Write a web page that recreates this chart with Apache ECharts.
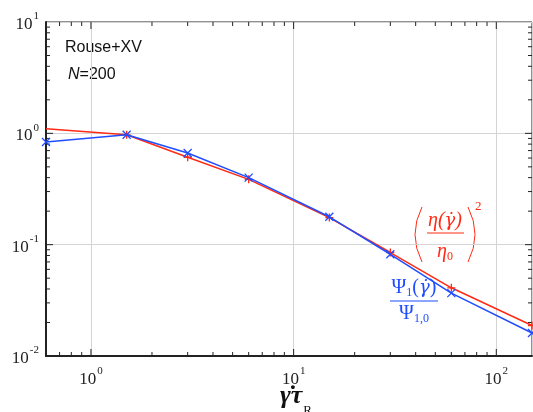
<!DOCTYPE html>
<html>
<head>
<meta charset="utf-8">
<script src="https://cdn.jsdelivr.net/npm/echarts@6/dist/echarts.min.js"></script>
<style>
html,body{margin:0;padding:0;background:#fff;}
#chart{width:533px;height:412px;}
</style>
</head>
<body>
<div id="chart"></div>
<script>
// data
const rate = [0.6, 1.5, 3, 6, 15, 30, 60, 150];
const etaSq = [1.10, 0.97, 0.61, 0.386, 0.175, 0.085, 0.041, 0.0188];
const psiRatio = [0.835, 0.97, 0.665, 0.40, 0.178, 0.082, 0.0367, 0.0161];

const xMajor = [1, 10, 100];
const xMinor = [0.7, 0.8, 0.9, 2, 3, 4, 5, 6, 7, 8, 9, 20, 30, 40, 50, 60, 70, 80, 90];
const yMajor = [0.1, 1];
const yMinor = [0.02, 0.03, 0.04, 0.05, 0.06, 0.07, 0.08, 0.09,
  0.2, 0.3, 0.4, 0.5, 0.6, 0.7, 0.8, 0.9, 2, 3, 4, 5, 6, 7, 8, 9];

const XMIN = 0.6, XMAX = 150, YMIN = 0.01, YMAX = 10;
const RED = '#ff2a14', BLUE = '#1f4dff';

const myChart = echarts.init(document.getElementById('chart'));

const powLabel = v => {
  const e = Math.log10(v);
  if (Math.abs(e - Math.round(e)) > 1e-6) return '';
  return '{b|10}{s|' + Math.round(e) + '}';
};
const labelRich = {
  b: {fontFamily: 'Liberation Serif', fontSize: 17, color: '#222', lineHeight: 22, verticalAlign: 'bottom'},
  s: {fontFamily: 'Liberation Serif', fontSize: 11, color: '#222', lineHeight: 22, verticalAlign: 'top', padding: [0, 0, 0, 1]}
};

const tickLine = (a, b) => ({
  type: 'line', shape: {x1: a[0], y1: a[1], x2: b[0], y2: b[1]},
  style: {stroke: '#222', lineWidth: 1}
});

// inward ticks on bottom+top / left+right, placed through the axis scales
const xTicks = (len) => (params, api) => {
  const v = api.value(0);
  const b = api.coord([v, YMIN]), t = api.coord([v, YMAX]);
  return {type: 'group', children: [
    tickLine(b, [b[0], b[1] - len]),
    tickLine(t, [t[0], t[1] + len])
  ]};
};
const yTicks = (len) => (params, api) => {
  const v = api.value(0);
  const l = api.coord([XMIN, v]), r = api.coord([XMAX, v]);
  return {type: 'group', children: [
    tickLine(l, [l[0] + len, l[1]]),
    tickLine(r, [r[0] - len, r[1]])
  ]};
};

const crossPath = 'path://M0,0L10,10M10,0L0,10';
const plusPath = 'path://M5,0L5,10M0,5L10,5';

const serif = '"Liberation Serif"';

const option = {
  animation: false,
  grid: {left: 46, top: 22, right: 1, bottom: 56, show: true, borderColor: '#222', borderWidth: 1},
  xAxis: {
    type: 'log', logBase: 10, min: XMIN, max: XMAX,
    axisLine: {lineStyle: {color: '#222', width: 2}},
    axisTick: {show: false},
    minorTick: {show: false},
    splitLine: {show: true, lineStyle: {color: '#d4d4d4', width: 1}},
    axisLabel: {formatter: powLabel, rich: labelRich, margin: 10, showMinLabel: false, showMaxLabel: false}
  },
  yAxis: {
    type: 'log', logBase: 10, min: YMIN, max: YMAX,
    axisLine: {lineStyle: {color: '#222', width: 2}},
    axisTick: {show: false},
    minorTick: {show: false},
    splitLine: {show: true, lineStyle: {color: '#d4d4d4', width: 1}},
    axisLabel: {formatter: powLabel, rich: labelRich, margin: 7}
  },
  series: [
    {type: 'custom', silent: true, data: xMinor, renderItem: xTicks(4), z: 5},
    {type: 'custom', silent: true, data: xMajor, renderItem: xTicks(7), z: 5},
    {type: 'custom', silent: true, data: yMinor, renderItem: yTicks(4), z: 5},
    {type: 'custom', silent: true, data: yMajor, renderItem: yTicks(7), z: 5},
    {
      type: 'line', name: 'eta', z: 10,
      data: rate.map((x, i) => ({value: [x, etaSq[i]], symbolSize: i === 0 ? 0 : 8})),
      symbol: plusPath,
      lineStyle: {color: RED, width: 1.5},
      itemStyle: {color: 'rgba(0,0,0,0)', borderColor: RED, borderWidth: 1.3}
    },
    {
      type: 'line', name: 'psi', z: 11,
      data: rate.map((x, i) => [x, psiRatio[i]]),
      symbol: crossPath, symbolSize: 8,
      lineStyle: {color: BLUE, width: 1.5},
      itemStyle: {color: 'rgba(0,0,0,0)', borderColor: BLUE, borderWidth: 1.3}
    }
  ],
  graphic: [
    {type: 'text', left: 65, top: 40, style: {text: 'Rouse+XV', font: '16px "Liberation Sans"', fill: '#111'}},
    {type: 'text', left: 68, top: 67, style: {
      text: '{i|N}{n|=200}',
      rich: {i: {font: 'italic 16px "Liberation Sans"', fill: '#111'}, n: {font: '16px "Liberation Sans"', fill: '#111'}}
    }},
    // x axis title
    {type: 'text', left: 280, top: 383, style: {
      text: '{g|γ̇τ}{r|R}',
      rich: {
        g: {font: 'bold italic 26px ' + serif, fill: '#111', lineHeight: 28, verticalAlign: 'bottom'},
        r: {font: '13px ' + serif, fill: '#111', lineHeight: 28, verticalAlign: 'bottom', padding: [0, 0, -8, 1]}
      }
    }},
    // red formula: thin tall parentheses
    {type: 'bezierCurve', shape: {x1: 422, y1: 207, x2: 422, y2: 262, cpx1: 408, cpy1: 234.5}, style: {stroke: RED, lineWidth: 1, fill: null}},
    {type: 'bezierCurve', shape: {x1: 468, y1: 207, x2: 468, y2: 262, cpx1: 482, cpy1: 234.5}, style: {stroke: RED, lineWidth: 1, fill: null}},
    {type: 'text', x: 475, y: 200, style: {text: '2', font: '13px ' + serif, fill: RED}},
    {type: 'text', x: 445, y: 221, style: {
      text: '{a|η(}{g|γ̇}{a|)}', align: 'center', verticalAlign: 'middle',
      rich: {
        a: {font: 'italic 20px ' + serif, fill: RED},
        g: {font: 'italic 18px "DejaVu Serif"', fill: RED}
      }
    }},
    {type: 'line', shape: {x1: 427, y1: 233, x2: 464, y2: 233}, style: {stroke: RED, lineWidth: 1.2}},
    {type: 'text', x: 445, y: 252, style: {
      text: '{a|η}{s|0}', align: 'center', verticalAlign: 'middle',
      rich: {a: {font: 'italic 20px ' + serif, fill: RED}, s: {font: '12px ' + serif, fill: RED, padding: [0, 0, -10, 0]}}
    }},
    // blue formula
    {type: 'text', x: 414, y: 288, style: {
      text: '{a|Ψ}{s|1}{a|(}{i|γ̇}{a|)}', align: 'center', verticalAlign: 'middle',
      rich: {
        a: {font: '20px ' + serif, fill: BLUE},
        i: {font: 'italic 18px "DejaVu Serif"', fill: BLUE},
        s: {font: '12px ' + serif, fill: BLUE, padding: [0, 0, -10, 0]}
      }
    }},
    {type: 'line', shape: {x1: 390, y1: 301, x2: 438, y2: 301}, style: {stroke: BLUE, lineWidth: 1.2}},
    {type: 'text', x: 414, y: 314, style: {
      text: '{a|Ψ}{s|1,0}', align: 'center', verticalAlign: 'middle',
      rich: {a: {font: '20px ' + serif, fill: BLUE}, s: {font: '12px ' + serif, fill: BLUE, padding: [0, 0, -10, 0]}}
    }}
  ]
};

myChart.setOption(option);
</script>
</body>
</html>
